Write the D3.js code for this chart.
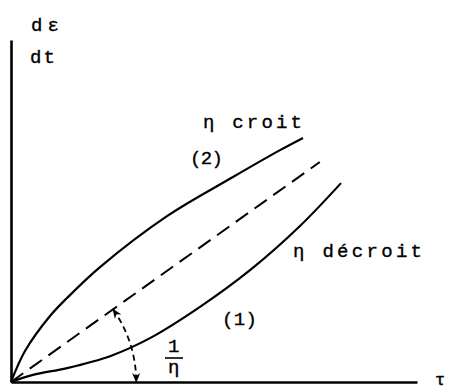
<!DOCTYPE html>
<html>
<head>
<meta charset="utf-8">
<script src="https://cdn.jsdelivr.net/npm/d3@7"></script>
<style>
  html, body { margin: 0; padding: 0; background: #fff; }
  svg { display: block; }
  text { font-family: "Liberation Mono", "DejaVu Sans Mono", monospace; fill: #000; }
</style>
</head>
<body>
<svg id="chart" width="451" height="390"></svg>
<script>
// Strain rate dε/dt versus stress τ, for a fluid whose viscosity η rises (2) or falls (1)
const tauRising = [0, 0.35, 0.975, 1.4, 2.225, 3.9, 5.55, 6.725, 7.3];
const rateRising = [0, 0.91, 1.94, 2.47, 3.38, 4.88, 6.03, 6.82, 7.18];

const tauFalling = [0, 0.55, 1.4, 2.475, 3.475, 4.725, 5.975, 7.225, 8.25];
const rateFalling = [0, 0.21, 0.41, 0.76, 1.29, 2.21, 3.29, 4.59, 5.85];

// Newtonian reference line, slope 1/η
const tauNewton = [0, 7.72];
const rateNewton = [0, 6.47];

// where the slope arrow meets the reference line
const slopeArrowTau = 2.55;

const svg = d3.select("#chart");

const x = d3.scaleLinear().domain([0, 10.15]).range([11, 417]);
const y = d3.scaleLinear().domain([0, 10.06]).range([382, 40]);

// axes: bare lines, no ticks
const xAxis = svg.append("g")
  .attr("transform", `translate(0,${y(0)})`)
  .call(d3.axisBottom(x).tickValues([]).tickSizeOuter(0));
const yAxis = svg.append("g")
  .attr("transform", `translate(${x(0)},0)`)
  .call(d3.axisLeft(y).tickValues([]).tickSizeOuter(0));
[xAxis, yAxis].forEach(g => g.select(".domain").attr("stroke", "#000").attr("stroke-width", 2.6));

const line = d3.line()
  .x(d => x(d[0]))
  .y(d => y(d[1]))
  .curve(d3.curveCatmullRom.alpha(0.5));

const rising = d3.zip(tauRising, rateRising);
const falling = d3.zip(tauFalling, rateFalling);
const newton = d3.zip(tauNewton, rateNewton);

svg.append("path").datum(rising).attr("d", line)
  .attr("fill", "none").attr("stroke", "#000").attr("stroke-width", 2.2);
svg.append("path").datum(falling).attr("d", line)
  .attr("fill", "none").attr("stroke", "#000").attr("stroke-width", 2.2);
svg.append("path").datum(newton).attr("d", d3.line().x(d => x(d[0])).y(d => y(d[1])))
  .attr("fill", "none").attr("stroke", "#000").attr("stroke-width", 2)
  .attr("stroke-dasharray", "15,8");

// arrowheads
const defs = svg.append("defs");
defs.append("marker")
  .attr("id", "head").attr("viewBox", "0 0 10 10")
  .attr("refX", 9).attr("refY", 5)
  .attr("markerWidth", 10).attr("markerHeight", 10)
  .attr("markerUnits", "userSpaceOnUse")
  .attr("orient", "auto-start-reverse")
  .append("path").attr("d", "M0,1 L10,5 L0,9 L3,5 Z").attr("fill", "#000");

// slope arc centred on the origin, from the reference line down to the τ axis
const ox = x(0), oy = y(0);
const px = x(slopeArrowTau), py = y(slopeArrowTau * rateNewton[1] / tauNewton[1]);
const r = Math.hypot(px - ox, py - oy);
const a0 = Math.atan2(oy - py, px - ox);
const arcPts = d3.range(0, 1.0001, 0.02).map(t => {
  const a = a0 * (1 - t);
  return [ox + r * Math.cos(a), oy - r * Math.sin(a)];
});
svg.append("path")
  .attr("d", d3.line()(arcPts))
  .attr("fill", "none").attr("stroke", "#000").attr("stroke-width", 1.8)
  .attr("stroke-dasharray", "6,4")
  .attr("marker-start", "url(#head)")
  .attr("marker-end", "url(#head)");

// labels
const label = (txt, lx, ly, len, size) => {
  const t = svg.append("text").attr("x", lx).attr("y", ly)
    .attr("font-size", size)
    .attr("stroke", "#000").attr("stroke-width", 0.35)
    .text(txt);
  if (len) t.attr("textLength", len).attr("lengthAdjust", "spacing");
  return t;
};
label("dε", 31, 31, 28, 19);
label("dt", 30, 63, 25, 19);
label("η croit", 203, 128, 99, 19);
label("(2)", 190, 164, 33, 19);
label("η décroit", 293, 257, 129, 19);
label("(1)", 222, 325, 35, 19);
label("τ", 435, 385, null, 17);

// slope value 1/η
label("1", 168, 352, null, 19);
svg.append("line").attr("x1", 165).attr("x2", 183).attr("y1", 358).attr("y2", 358)
  .attr("stroke", "#000").attr("stroke-width", 1.6);
label("η", 168, 373, null, 19);
</script>
</body>
</html>
